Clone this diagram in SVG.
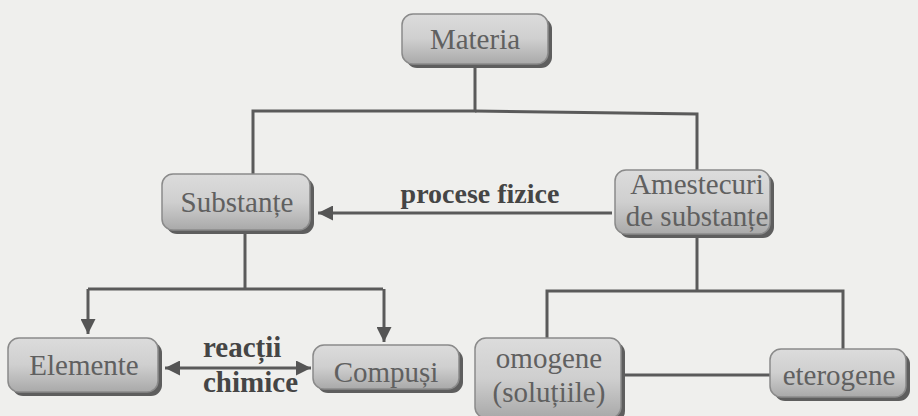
<svg xmlns="http://www.w3.org/2000/svg" width="918" height="416" viewBox="0 0 918 416">
<defs>
<linearGradient id="g" x1="0" y1="0" x2="0" y2="1">
<stop offset="0" stop-color="#dcdcdc"/>
<stop offset="0.5" stop-color="#cfcfcf"/>
<stop offset="1" stop-color="#a9a9a9"/>
</linearGradient>
<marker id="ah" viewBox="0 0 10 10" refX="10" refY="5" markerWidth="5" markerHeight="5" orient="auto-start-reverse" markerUnits="strokeWidth">
<path d="M0,0 L10,5 L0,10 z" fill="#555"/>
</marker>
<style>
.sh{fill:#5e5e5e}
.bx{fill:url(#g);stroke:#8a8a8a;stroke-width:1.5}
.t{font-family:"Liberation Serif","Times New Roman",serif;font-size:29px;fill:#606060;text-anchor:middle}
.lb{font-family:"Liberation Serif","Times New Roman",serif;font-size:28px;font-weight:bold;fill:#454545}
.c{fill:none;stroke:#5a5a5a;stroke-width:3}
</style>
</defs>
<rect width="918" height="416" fill="#efefed"/>
<g id="connectors">
<polyline class="c" points="475,66 475,111 253,111 253,174"/>
<polyline class="c" points="475,111 697,114 697,170"/>
<line class="c" x1="612" y1="213" x2="318" y2="213" marker-end="url(#ah)"/>
<polyline class="c" points="245,230 245,289"/>
<polyline class="c" points="88,289 383,289"/>
<line class="c" x1="88" y1="289" x2="88" y2="334" marker-end="url(#ah)"/>
<line class="c" x1="384" y1="289" x2="384" y2="342" marker-end="url(#ah)"/>
<line class="c" x1="165" y1="368" x2="311" y2="368" marker-start="url(#ah)" marker-end="url(#ah)"/>
<polyline class="c" points="697,234 697,291"/>
<polyline class="c" points="547,338 547,291 843,291 843,349"/>
<line class="c" x1="623" y1="375" x2="770" y2="375"/>
</g>
<g id="label-procese">
<text class="lb" x="480" y="203" text-anchor="middle">procese fizice</text>
</g>
<g id="label-reactii">
<text class="lb" x="203" y="357" style="font-size:29px">reacții</text>
<text class="lb" x="203" y="392" style="font-size:29px">chimice</text>
</g>
<g id="materia">
<rect class="sh" x="406" y="18" width="146" height="50" rx="11"/>
<rect class="bx" x="402" y="14" width="146" height="50" rx="11"/>
<text class="t" x="475" y="49">Materia</text>
</g>
<g id="substante">
<rect class="sh" x="166" y="178" width="148" height="56" rx="11"/>
<rect class="bx" x="162" y="174" width="148" height="56" rx="11"/>
<text class="t" x="237" y="212">Substanțe</text>
</g>
<g id="amestecuri">
<rect class="sh" x="619" y="174" width="155" height="64" rx="11"/>
<rect class="bx" x="615" y="170" width="155" height="64" rx="11"/>
<text class="t" x="697" y="194">Amestecuri</text>
<text class="t" x="697" y="226">de substanțe</text>
</g>
<g id="elemente">
<rect class="sh" x="12" y="342" width="150" height="54" rx="11"/>
<rect class="bx" x="8" y="338" width="150" height="54" rx="11"/>
<text class="t" x="84" y="375">Elemente</text>
</g>
<g id="compusi">
<rect class="sh" x="317" y="349" width="146" height="44" rx="11"/>
<rect class="bx" x="313" y="345" width="146" height="44" rx="11"/>
<text class="t" x="386" y="382">Compuși</text>
</g>
<g id="omogene">
<rect class="sh" x="479" y="342" width="146" height="80" rx="11"/>
<rect class="bx" x="475" y="338" width="146" height="80" rx="11"/>
<text class="t" x="549" y="368">omogene</text>
<text class="t" x="549" y="402">(soluțiile)</text>
</g>
<g id="eterogene">
<rect class="sh" x="774" y="353" width="136" height="48" rx="11"/>
<rect class="bx" x="770" y="349" width="136" height="48" rx="11"/>
<text class="t" x="839" y="385">eterogene</text>
</g>
</svg>
